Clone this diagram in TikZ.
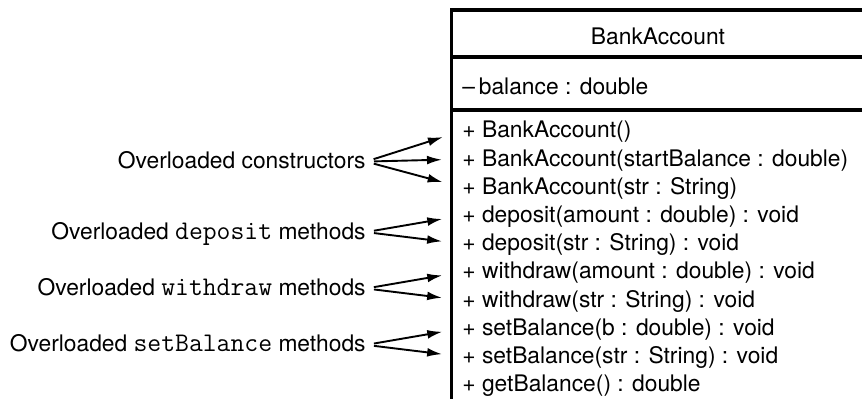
\documentclass[tikz,border=0pt]{standalone}
\usepackage{fontspec}
\setmainfont{TeX Gyre Heros}
\setmonofont{Latin Modern Mono}[Scale=1.18]
\usetikzlibrary{arrows.meta,positioning,calc}
\tikzset{
  member/.style={inner sep=0pt, anchor=west, font=\fontsize{11.4}{13.7}\selectfont,
                 text height=10.35pt, text depth=3.35pt},
  note/.style={inner sep=0pt, font=\fontsize{11.4}{13.7}\selectfont,
               text height=10.35pt, text depth=3.35pt, yshift=-1.2pt},
  bar/.style={line width=1.8pt},
  arr/.style={-{Latex[length=7.5pt,width=4.4pt]}, line width=0.95pt,
              shorten <=4pt, shorten >=10pt},
}

\begin{document}
\begin{tikzpicture}[x=0.5pt, y=-0.5pt]
    \clip (0,0) rectangle (862,399);
    % class box, cut off on the right and at the bottom
    \draw[bar] (870,10) -- (451.5,10) -- (451.5,410);
    \draw[bar] (451.5,57) -- (870,57);
    \draw[bar] (451.5,110) -- (870,110);
    \node[member, anchor=center] (name) at (658,38) {BankAccount};
    \node[member] (attr) at (462,88) {--\,balance : double};
    % methods
    \node[member] (m1) at (462,131) {+ BankAccount()};
    \node[member, below right=0pt and 0pt of m1.south west] (m2) {+ BankAccount(startBalance : double)};
    \node[member, below right=0pt and 0pt of m2.south west] (m3) {+ BankAccount(str : String)};
    \node[member, below right=0pt and 0pt of m3.south west] (m4) {+ deposit(amount : double) : void};
    \node[member, below right=0pt and 0pt of m4.south west] (m5) {+ deposit(str : String) : void};
    \node[member, below right=0pt and 0pt of m5.south west] (m6) {+ withdraw(amount : double) : void};
    \node[member, below right=0pt and 0pt of m6.south west] (m7) {+ withdraw(str : String) : void};
    \node[member, below right=0pt and 0pt of m7.south west] (m8) {+ setBalance(b : double) : void};
    \node[member, below right=0pt and 0pt of m8.south west] (m9) {+ setBalance(str : String) : void};
    \node[member, below right=0pt and 0pt of m9.south west] (m10) {+ getBalance() : double};
    % notes on the left
    \node[note, left=48pt of m2.west] (ctor) {Overloaded constructors};
    \node[note, left=48pt of m4.south west] (depo) {Overloaded \texttt{deposit} methods};
    \node[note, left=48pt of m6.south west] (wdraw) {Overloaded \texttt{withdraw} methods};
    \node[note, left=48pt of m8.south west] (setb) {Overloaded \texttt{setBalance} methods};
    \draw[arr] (ctor.east) -- (m1.west);
    \draw[arr] (ctor.east) -- (m2.west);
    \draw[arr] (ctor.east) -- (m3.west);
    \draw[arr] (depo.east) -- (m4.west);
    \draw[arr] (depo.east) -- (m5.west);
    \draw[arr] (wdraw.east) -- (m6.west);
    \draw[arr] (wdraw.east) -- (m7.west);
    \draw[arr] (setb.east) -- (m8.west);
    \draw[arr] (setb.east) -- (m9.west);
  \end{tikzpicture}
\end{document}
